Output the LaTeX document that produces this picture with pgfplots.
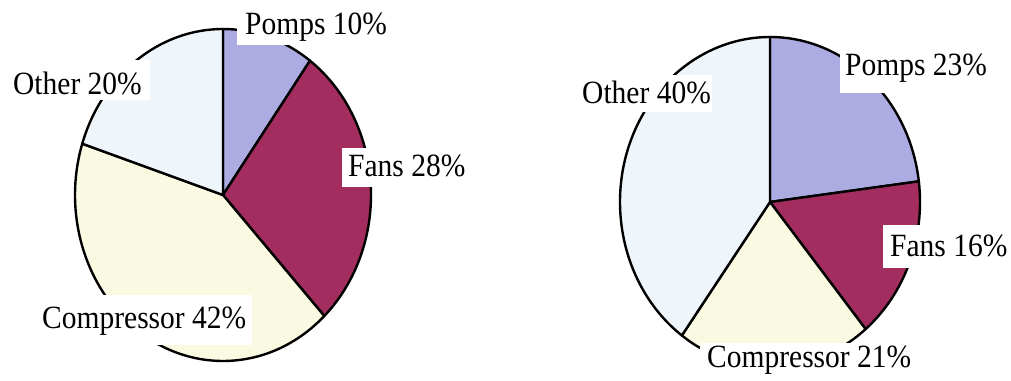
\documentclass[border=0pt]{standalone}
\usepackage{pgfplots}
\pgfplotsset{compat=1.18}
\usepackage{graphicx}
\usepackage{fontspec}
\setmainfont{Liberation Serif}
\definecolor{pomps}{RGB}{172,172,226}
\definecolor{fans}{RGB}{163,45,95}
\definecolor{comp}{RGB}{250,250,226}
\definecolor{other}{RGB}{238,246,251}
% #1,#2 centre; #3,#4 radii (pt); #5 cumulative share before; #6 share (%); #7 colour
\newcommand{\pieslice}[7]{%
  \filldraw[fill=#7,draw=black,line width=2.4pt,line join=round]
    (axis cs:#1,#2) -- ++({90-3.6*(#5)}:#3pt and #4pt)
    arc[start angle={90-3.6*(#5)},end angle={90-3.6*(#5+#6)},x radius=#3pt,y radius=#4pt] -- cycle;
}
\newcommand{\lbl}[7]{%
  \fill[white] (axis cs:#1,#2) rectangle (axis cs:#3,#4);
  \node[anchor=base west,inner sep=0pt,font=\fontsize{29.5}{35}\selectfont] at (axis cs:#5,#6) {\scalebox{1}[1.1]{#7}};
}
\begin{document}
\begin{tikzpicture}
\begin{axis}[width=1011pt,height=371pt,scale only axis,
  xmin=0,xmax=1011,ymin=0,ymax=371,hide axis,clip=false]
\addplot[draw=none] coordinates {(0,0) (1011,371)};
% left pie: Pomps 10, Fans 28, Compressor 42, Other 20
\pieslice{223}{176}{148}{166}{0}{10}{pomps}
\pieslice{223}{176}{148}{166}{10}{28}{fans}
\pieslice{223}{176}{148}{166}{38}{42}{comp}
\pieslice{223}{176}{148}{166}{80}{20}{other}
% right pie: Pomps 23, Fans 16, Compressor 21, Other 40
\pieslice{770}{169}{150}{165}{0}{23}{pomps}
\pieslice{770}{169}{150}{165}{23}{16}{fans}
\pieslice{770}{169}{150}{165}{39}{21}{comp}
\pieslice{770}{169}{150}{165}{60}{40}{other}
% labels
\lbl{237}{371}{392}{326}{245}{336}{Pomps 10\%}
\lbl{0}{311}{150}{271}{13}{276}{Other 20\%}
\lbl{342}{223}{470}{184}{348}{194}{Fans 28\%}
\lbl{33}{76}{252}{26}{42}{42}{Compressor 42\%}
\lbl{840}{326}{992}{278}{845}{295}{Pomps 23\%}
\lbl{576}{296}{712}{259}{582}{267}{Other 40\%}
\lbl{883}{146}{1011}{103}{890}{114}{Fans 16\%}
\lbl{700}{28}{920}{0}{707}{3}{Compressor 21\%}
\end{axis}
\end{tikzpicture}
\end{document}
